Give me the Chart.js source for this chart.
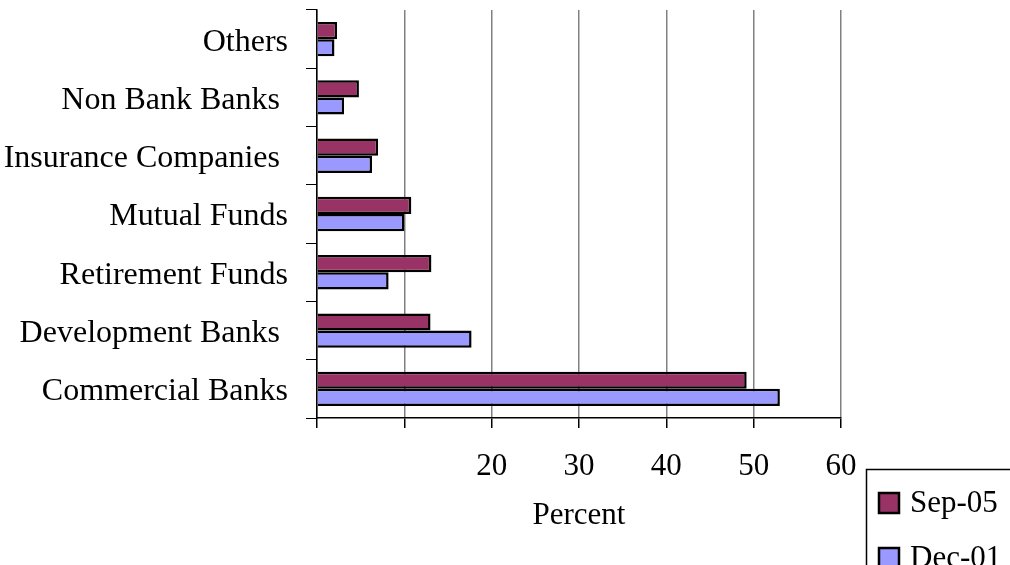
<!DOCTYPE html>
<html>
<head>
<meta charset="utf-8">
<script src="https://cdn.jsdelivr.net/npm/chart.js@4"></script>
<style>
  html, body { margin: 0; padding: 0; background: #fff; }
  #wrap { width: 1010px; height: 565px; }
</style>
</head>
<body>
<div id="wrap"><canvas id="barChart" width="1010" height="565"></canvas></div>
<script>
// holders of the assets, top to bottom
const categories = ['Others', 'Non Bank Banks ', 'Insurance Companies ', 'Mutual Funds', 'Retirement Funds', 'Development Banks ', 'Commercial Banks']
const sep05 = [2.3, 4.8, 7.0, 10.8, 13.1, 13.0, 49.2]
const dec01 = [2.0, 3.1, 6.3, 10.0, 8.2, 17.7, 53.0]
const seriesNames = ['Sep-05', 'Dec-01']
const seriesColors = ['#993366', '#9999FF']
const shownTicks = [20, 30, 40, 50, 60]

const serif = 'Liberation Serif, Times New Roman, serif'
const fontSize = 31

// legend drawn by hand in the lower right corner, clipped by the canvas edge
const cornerLegend = {
    id: 'cornerLegend',
    afterDraw(chart){
        const ctx = chart.ctx
        ctx.save()
        ctx.strokeStyle = '#000'
        ctx.lineWidth = 1.5
        ctx.beginPath()
        ctx.moveTo(866.5, 566)
        ctx.lineTo(866.5, 469.5)
        ctx.lineTo(1011, 469.5)
        ctx.stroke()

        ctx.font = fontSize + 'px ' + serif
        ctx.textBaseline = 'middle'
        chart.data.datasets.forEach((ds, i)=>{
            let y = 493 + i * 55
            ctx.fillStyle = ds.backgroundColor
            ctx.fillRect(879, y, 20, 20)
            ctx.lineWidth = 2.5
            ctx.strokeRect(879, y, 20, 20)
            ctx.fillStyle = '#000'
            ctx.fillText(ds.label, 910, y + 11)
        })
        ctx.restore()
    }
}

new Chart(document.querySelector('#barChart'), {
    type: 'bar',
    data: {
        labels: categories,
        datasets: [
            { label: seriesNames[0], data: sep05, backgroundColor: seriesColors[0], borderColor: '#000', borderWidth: 2.5 },
            { label: seriesNames[1], data: dec01, backgroundColor: seriesColors[1], borderColor: '#000', borderWidth: 2.5 }
        ]
    },
    options: {
        indexAxis: 'y',
        responsive: false,
        animation: false,
        categoryPercentage: 0.59,
        barPercentage: 1.0,
        layout: { padding: { top: 10, right: 169, left: 0, bottom: 0 } },
        plugins: {
            legend: { display: false },
            tooltip: { enabled: false }
        },
        scales: {
            x: {
                min: 0,
                max: 60,
                ticks: {
                    stepSize: 10,
                    color: '#000',
                    padding: 20,
                    font: { family: serif, size: fontSize },
                    callback: (v)=> shownTicks.includes(v) ? v : ''
                },
                grid: { color: '#808080', lineWidth: 1.5, tickColor: '#000', tickLength: 10 },
                border: { color: '#000', width: 1.5 },
                title: { display: true, text: 'Percent', color: '#000', font: { family: serif, size: fontSize }, padding: { top: 0, bottom: 31 } },
                afterFit(scale){ scale.height = 147 }
            },
            y: {
                ticks: {
                    color: '#000',
                    padding: 18,
                    labelOffset: 3,
                    font: { family: serif, size: 32 }
                },
                grid: { drawOnChartArea: false, tickColor: '#000', tickLength: 11, offset: true },
                border: { color: '#000', width: 1.5 },
                afterFit(scale){
                    scale.width = 317
                    scale.paddingTop = 0
                    scale.paddingBottom = 0
                }
            }
        }
    },
    plugins: [cornerLegend]
})
</script>
</body>
</html>
